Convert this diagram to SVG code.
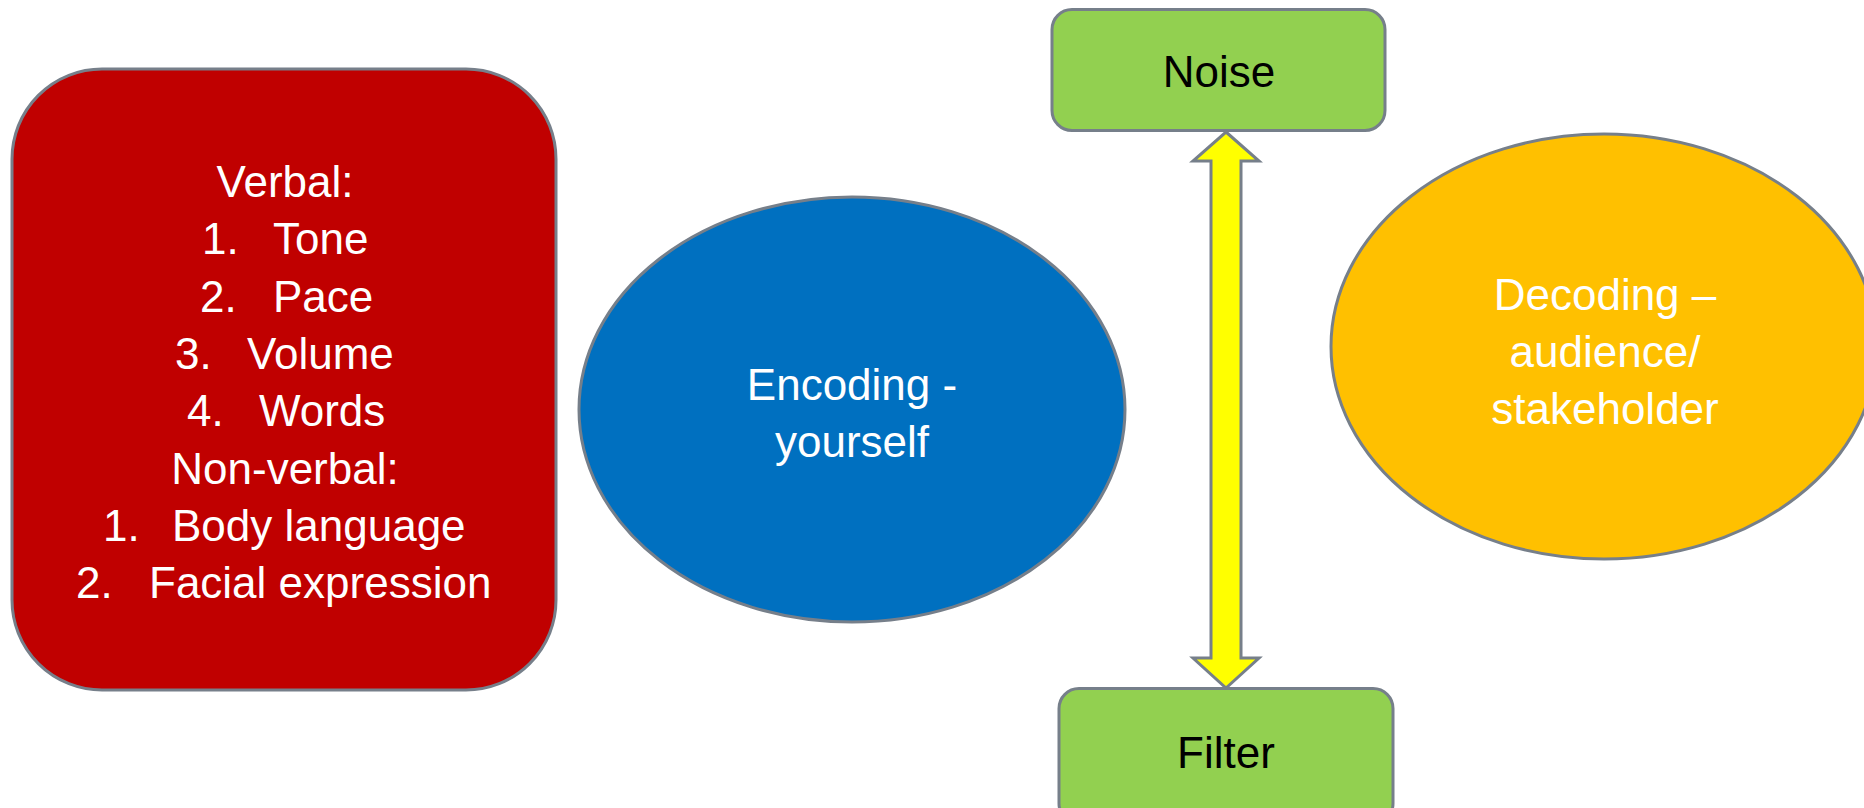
<svg xmlns="http://www.w3.org/2000/svg" width="1864" height="808" viewBox="0 0 1864 808">
<style>
.shape{stroke:#767F8A;stroke-width:3}
.t{font-family:"Liberation Sans",Arial,sans-serif;font-size:44px}
.w{fill:#FFFFFF}
.b{fill:#000000}
.c{text-anchor:middle}
</style>
<rect width="1864" height="808" fill="#FFFFFF"/>
<g id="node-channels">
<rect class="shape" x="12" y="69" width="544" height="621" rx="90" ry="90" fill="#C00000"/>
<text class="t w c" x="285" y="197">Verbal:</text>
<text class="t w" x="202" y="254">1.</text><text class="t w" x="273" y="254">Tone</text>
<text class="t w" x="200" y="312">2.</text><text class="t w" x="273" y="312">Pace</text>
<text class="t w" x="175" y="369">3.</text><text class="t w" x="247" y="369">Volume</text>
<text class="t w" x="187" y="426">4.</text><text class="t w" x="259" y="426">Words</text>
<text class="t w c" x="285" y="484">Non-verbal:</text>
<text class="t w" x="103" y="541">1.</text><text class="t w" x="172" y="541">Body language</text>
<text class="t w" x="76" y="598">2.</text><text class="t w" x="149" y="598">Facial expression</text>
</g>
<g id="node-encoding">
<ellipse class="shape" cx="852" cy="409.5" rx="273" ry="212.5" fill="#0070C0"/>
<text class="t w c" x="852" y="400">Encoding -</text>
<text class="t w c" x="852" y="457">yourself</text>
</g>
<g id="node-decoding">
<ellipse class="shape" cx="1604" cy="346.5" rx="273" ry="212.5" fill="#FFC000"/>
<text class="t w c" x="1605" y="310">Decoding –</text>
<text class="t w c" x="1605" y="367">audience/</text>
<text class="t w c" x="1605" y="424">stakeholder</text>
</g>
<g id="node-noise">
<rect class="shape" x="1052" y="9.5" width="333" height="121" rx="20" ry="20" fill="#92D050"/>
<text class="t b c" x="1219" y="87">Noise</text>
</g>
<g id="node-filter">
<rect class="shape" x="1059" y="688.5" width="334" height="135" rx="20" ry="20" fill="#92D050"/>
<text class="t b c" x="1226" y="768">Filter</text>
</g>
<g id="connectors">
<polygon class="shape" fill="#FFFF00" points="1226,132 1259,161 1241,161 1241,658 1259,658 1226,688 1193,658 1211,658 1211,161 1193,161"/>
</g>
</svg>
